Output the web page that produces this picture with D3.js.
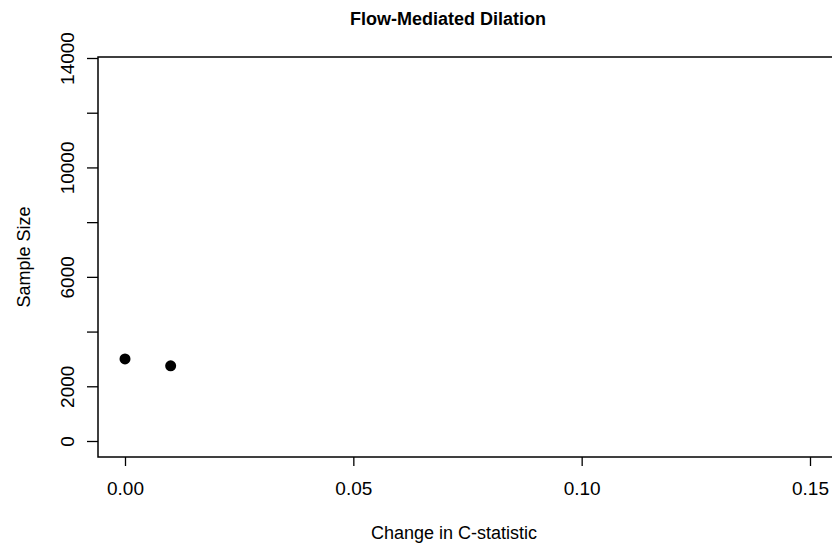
<!DOCTYPE html>
<html>
<head>
<meta charset="utf-8">
<script src="https://cdn.jsdelivr.net/npm/d3@7"></script>
<style>
  body { margin: 0; background: #fff; }
  text { font-family: "Liberation Sans", Arial, sans-serif; fill: #000; }
</style>
</head>
<body>
<div class="chart"></div>
<script>
// values
const changeC = [0.00, 0.01];
const sampleSize = [3000, 2750];
const xTicks = [0, 0.05, 0.10, 0.15];
const yTicks = [0, 2000, 4000, 6000, 8000, 10000, 12000, 14000];
const yLabelled = [0, 2000, 6000, 10000, 14000];

const width = 832, height = 548;
const box = {left: 98, top: 57, bottom: 457, right: 840};

const svg = d3.select('.chart').append('svg')
  .attr('width', width)
  .attr('height', height);

const x = d3.scaleLinear().domain([0, 0.15]).range([125, 810]);
const y = d3.scaleLinear().domain([0, 14000]).range([441, 58]);

// plot frame
svg.append('rect')
  .attr('x', box.left).attr('y', box.top)
  .attr('width', box.right - box.left).attr('height', box.bottom - box.top)
  .attr('fill', 'none').attr('stroke', '#000').attr('stroke-width', 1.5);

// x axis
const xAxis = svg.append('g')
  .attr('transform', `translate(0,${box.bottom})`)
  .call(d3.axisBottom(x).tickValues(xTicks).tickSize(9).tickPadding(16)
    .tickFormat(d3.format('.2f')));
xAxis.select('.domain').remove();
xAxis.selectAll('line').attr('stroke', '#000').attr('stroke-width', 1.3);
xAxis.selectAll('text').attr('font-size', 19).attr('fill', '#222')
  .attr('font-family', '"Liberation Sans", Arial, sans-serif');

// y axis, labels turned like R's default
const yAxis = svg.append('g')
  .attr('transform', `translate(${box.left},0)`)
  .call(d3.axisLeft(y).tickValues(yTicks).tickSize(11)
    .tickFormat(d => yLabelled.includes(d) ? d : ''));
yAxis.select('.domain').remove();
yAxis.selectAll('line').attr('stroke', '#000').attr('stroke-width', 1.3);
yAxis.selectAll('text')
  .attr('x', null).attr('dy', null)
  .attr('text-anchor', 'middle')
  .attr('transform', 'translate(-24,0) rotate(-90)')
  .attr('font-size', 19).attr('fill', '#222')
  .attr('font-family', '"Liberation Sans", Arial, sans-serif');

// points
svg.selectAll('circle')
  .data(changeC)
  .enter()
  .append('circle')
  .attr('cx', d => x(d))
  .attr('cy', (d, i) => y(sampleSize[i]))
  .attr('r', 5.5)
  .attr('fill', '#000');

// titles
svg.append('text')
  .attr('x', 448).attr('y', 25)
  .attr('text-anchor', 'middle')
  .attr('font-size', 18).attr('font-weight', 'bold')
  .text('Flow-Mediated Dilation');

svg.append('text')
  .attr('x', 454).attr('y', 539)
  .attr('text-anchor', 'middle')
  .attr('font-size', 18).attr('fill', '#222')
  .text('Change in C-statistic');

svg.append('text')
  .attr('transform', `translate(30,${(box.top + box.bottom) / 2}) rotate(-90)`)
  .attr('text-anchor', 'middle')
  .attr('font-size', 18).attr('fill', '#222')
  .text('Sample Size');
</script>
</body>
</html>
